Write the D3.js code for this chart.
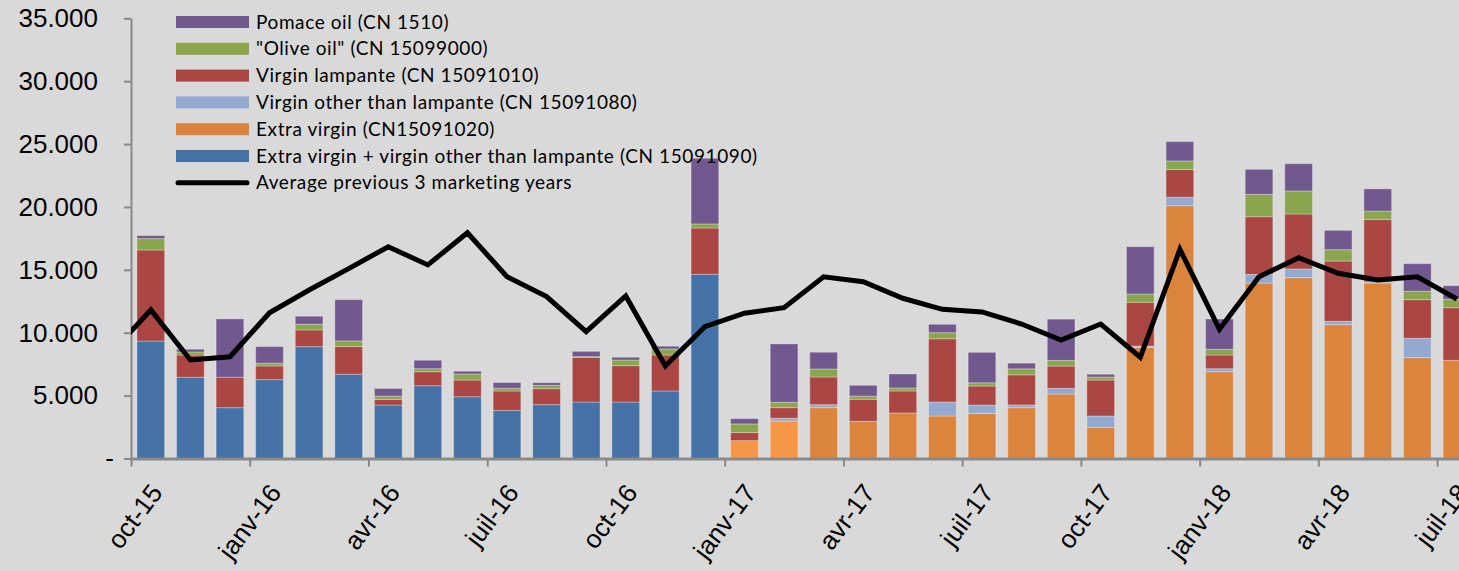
<!DOCTYPE html>
<html>
<head>
<meta charset="utf-8">
<script src="https://cdn.jsdelivr.net/npm/d3@7"></script>
<style>
  html, body { margin: 0; padding: 0; background: #d9d9d9; }
  svg { display: block; font-family: Lato, 'Open Sans', sans-serif; }
</style>
</head>
<body>
<div id="chart"></div>
<script>
// ===================================================================
// data (tonnes per month)

const MONTHS = [
  'oct-15', 'nov-15', 'déc-15', 'janv-16', 'févr-16', 'mars-16', 'avr-16', 'mai-16', 'juin-16',
  'juil-16', 'août-16', 'sept-16', 'oct-16', 'nov-16', 'déc-16', 'janv-17', 'févr-17', 'mars-17',
  'avr-17', 'mai-17', 'juin-17', 'juil-17', 'août-17', 'sept-17', 'oct-17', 'nov-17', 'déc-17',
  'janv-18', 'févr-18', 'mars-18', 'avr-18', 'mai-18', 'juin-18', 'juil-18'
]

const EXTRA_PLUS_VIRGIN = [
  9340, 6460, 4040, 6270, 8890, 6700, 4250, 5790, 4910, 3830, 4280, 4490, 4490, 5370, 14650,
  0, 0, 0, 0, 0, 0, 0, 0, 0, 0, 0, 0, 0, 0, 0, 0, 0, 0, 0
]

const EXTRA_VIRGIN = [
  0, 0, 0, 0, 0, 0, 0, 0, 0, 0, 0, 0, 0, 0, 0,
  1420, 2980, 4040, 2960, 3620, 3380, 3590, 4040, 5130, 2480, 8840, 20100, 6900, 13950, 14380,
  10640, 13950, 8020, 7810
]

const VIRGIN_OTHER = [
  0, 0, 0, 0, 0, 0, 0, 0, 0, 0, 0, 0, 0, 0, 0,
  0, 220, 240, 0, 0, 1110, 660, 220, 450, 900, 100, 670, 240, 690, 690, 270, 100, 1540, 0
]

const VIRGIN_LAMPANTE = [
  7240, 1770, 2420, 1090, 1330, 2200, 450, 1110, 1330, 1540, 1270, 3550, 2890, 2860, 3680,
  640, 840, 2200, 1750, 1750, 5030, 1510, 2390, 1770, 2860, 3480, 2200, 1090, 4580, 4370,
  4790, 4960, 3070, 4180
]

const OLIVE_OIL = [
  900, 240, 0, 220, 450, 450, 260, 240, 480, 220, 270, 60, 450, 480, 320,
  690, 430, 640, 260, 240, 480, 260, 480, 450, 240, 660, 690, 450, 1780, 1830,
  900, 660, 670, 670
]

const POMACE_OIL = [
  240, 220, 4640, 1320, 640, 3280, 610, 670, 220, 450, 210, 420, 220, 220, 5220,
  420, 4640, 1330, 850, 1110, 670, 2420, 450, 3280, 220, 3760, 1540, 2410, 1990, 2170,
  1540, 1770, 2190, 1080
]

// first value is sept-15, left of the axis (clipped)
const AVERAGE_PREVIOUS_3 = [
  8400,
  11810, 7830, 8090, 11590, 13400, 15100, 16840, 15390, 17950, 14450, 12870, 10080,
  12920, 7360, 10480, 11550, 11990, 14450, 14060, 12740, 11860, 11650, 10690, 9420,
  10690, 8050, 16630, 10270, 14450, 15970, 14730, 14190, 14450, 12680
]

const Y_TICKS = [0, 5000, 10000, 15000, 20000, 25000, 30000, 35000]

const SERIES = [
  { key: 'extraPlusVirgin', label: 'Extra virgin + virgin other than lampante (CN 15091090)', values: EXTRA_PLUS_VIRGIN },
  { key: 'extraVirgin', label: 'Extra virgin (CN15091020)', values: EXTRA_VIRGIN },
  { key: 'virginOther', label: 'Virgin other than lampante (CN 15091080)', values: VIRGIN_OTHER },
  { key: 'lampante', label: 'Virgin lampante (CN 15091010)', values: VIRGIN_LAMPANTE },
  { key: 'oliveOil', label: '"Olive oil" (CN 15099000)', values: OLIVE_OIL },
  { key: 'pomace', label: 'Pomace oil (CN 1510)', values: POMACE_OIL }
]

const LINE_LABEL = 'Average previous 3 marketing years'

// ===================================================================
// styles

const WIDTH = 1459
const HEIGHT = 571

const PLOT = { left: 131, top: 18.3, bottom: 458.5, step: 39.58 }

const COLORS = {
  extraPlusVirgin: '#4572a7',
  extraVirgin: '#db843d',
  virginOther: '#93a9cf',
  lampante: '#aa4643',
  oliveOil: '#89a54e',
  pomace: '#71588f'
}

// two months drawn in a brighter orange in the original
const BRIGHT_ORANGE = '#f79646'
const BRIGHT_MONTHS = ['janv-17', 'févr-17']

const AXIS_COLOR = '#898989'

// ===================================================================

const svg = d3.select('#chart')
  .append('svg')
    .attr('width', WIDTH)
    .attr('height', HEIGHT)

svg.append('rect')
  .attr('width', WIDTH)
  .attr('height', HEIGHT)
  .attr('fill', '#d9d9d9')

svg.append('clipPath')
  .attr('id', 'plot-clip')
  .append('rect')
    .attr('x', PLOT.left)
    .attr('y', 0)
    .attr('width', WIDTH - PLOT.left)
    .attr('height', HEIGHT)

const xi = d3.scaleLinear()
  .domain([0, MONTHS.length])
  .range([PLOT.left, PLOT.left + MONTHS.length * PLOT.step])

const x = d3.scaleBand()
  .domain(MONTHS)
  .range(xi.range())
  .paddingInner(0.3)
  .paddingOuter(0.15)

const y = d3.scaleLinear()
  .domain([0, 35000])
  .range([PLOT.bottom, PLOT.top])

const table = MONTHS.map((month, i) => {
  const row = { month }
  SERIES.forEach(s => { row[s.key] = s.values[i] })
  return row
})

const stacked = d3.stack().keys(SERIES.map(s => s.key))(table)

// bars
svg.append('g')
  .selectAll('g')
  .data(stacked)
  .join('g')
    .selectAll('rect')
    .data(d => d.map(p => ({ key: d.key, p })))
    .join('rect')
      .filter(d => d.p[1] - d.p[0] > 0)
      .attr('x', d => x(d.p.data.month))
      .attr('width', x.bandwidth())
      .attr('y', d => y(d.p[1]))
      .attr('height', d => y(d.p[0]) - y(d.p[1]))
      .attr('fill', d => d.key === 'extraVirgin' && BRIGHT_MONTHS.includes(d.p.data.month)
        ? BRIGHT_ORANGE
        : COLORS[d.key])
      .attr('stroke', 'rgba(255,255,255,0.3)')
      .attr('stroke-width', 1)

// axes
const locale = d3.formatLocale({ decimal: ',', thousands: '.', grouping: [3], currency: ['', ''] })
const fmt = locale.format(',d')

const yAxis = svg.append('g')
  .attr('transform', `translate(${PLOT.left},0)`)
  .call(d3.axisLeft(y)
    .tickValues(Y_TICKS)
    .tickFormat(v => v === 0 ? '-' : fmt(v))
    .tickSize(7)
    .tickSizeOuter(0)
    .tickPadding(26))

yAxis.select('.domain').attr('stroke', AXIS_COLOR).attr('stroke-width', 2)
yAxis.selectAll('.tick line').attr('stroke', AXIS_COLOR).attr('stroke-width', 2)
yAxis.selectAll('.tick text')
  .attr('font-size', 26)
  .attr('fill', '#000')
  .attr('dx', v => v === 0 ? 16 : 0)

const xAxis = svg.append('g')
  .attr('transform', `translate(0,${PLOT.bottom})`)
  .call(d3.axisBottom(xi)
    .tickValues(d3.range(0, MONTHS.length, 3))
    .tickFormat(i => MONTHS[i])
    .tickSize(8)
    .tickSizeOuter(0))

xAxis.select('.domain').attr('stroke', AXIS_COLOR).attr('stroke-width', 3)
xAxis.selectAll('.tick line').attr('stroke', AXIS_COLOR).attr('stroke-width', 2)
xAxis.selectAll('.tick text')
  .attr('font-size', 26)
  .attr('fill', '#000')
  .attr('x', 0)
  .attr('y', 0)
  .attr('dy', '0.35em')
  .attr('text-anchor', 'end')
  .attr('transform', 'translate(25,29) rotate(-53)')

// average line
const line = d3.line()
  .x((d, i) => xi(i - 0.5))
  .y(d => y(d))

svg.append('path')
  .datum(AVERAGE_PREVIOUS_3)
  .attr('clip-path', 'url(#plot-clip)')
  .attr('d', line)
  .attr('fill', 'none')
  .attr('stroke', '#000')
  .attr('stroke-width', 5)
  .attr('stroke-linejoin', 'miter')

// legend
const legendItems = SERIES.slice().reverse()
  .map(s => ({ label: s.label, color: COLORS[s.key], type: 'rect' }))
  .concat([{ label: LINE_LABEL, color: '#000', type: 'line' }])

const legend = svg.append('g')
  .selectAll('g')
  .data(legendItems)
  .join('g')
    .attr('transform', (d, i) => `translate(0,${22 + i * 26.8})`)

legend.filter(d => d.type === 'rect')
  .append('rect')
    .attr('x', 176)
    .attr('y', -6)
    .attr('width', 73)
    .attr('height', 12)
    .attr('fill', d => d.color)

legend.filter(d => d.type === 'line')
  .append('line')
    .attr('x1', 178)
    .attr('x2', 247)
    .attr('stroke', d => d.color)
    .attr('stroke-width', 5)
    .attr('stroke-linecap', 'round')

legend.append('text')
  .attr('x', 256)
  .attr('dy', '0.35em')
  .attr('font-size', 19)
  .attr('letter-spacing', 0.6)
  .attr('fill', '#000')
  .text(d => d.label)
</script>
</body>
</html>
